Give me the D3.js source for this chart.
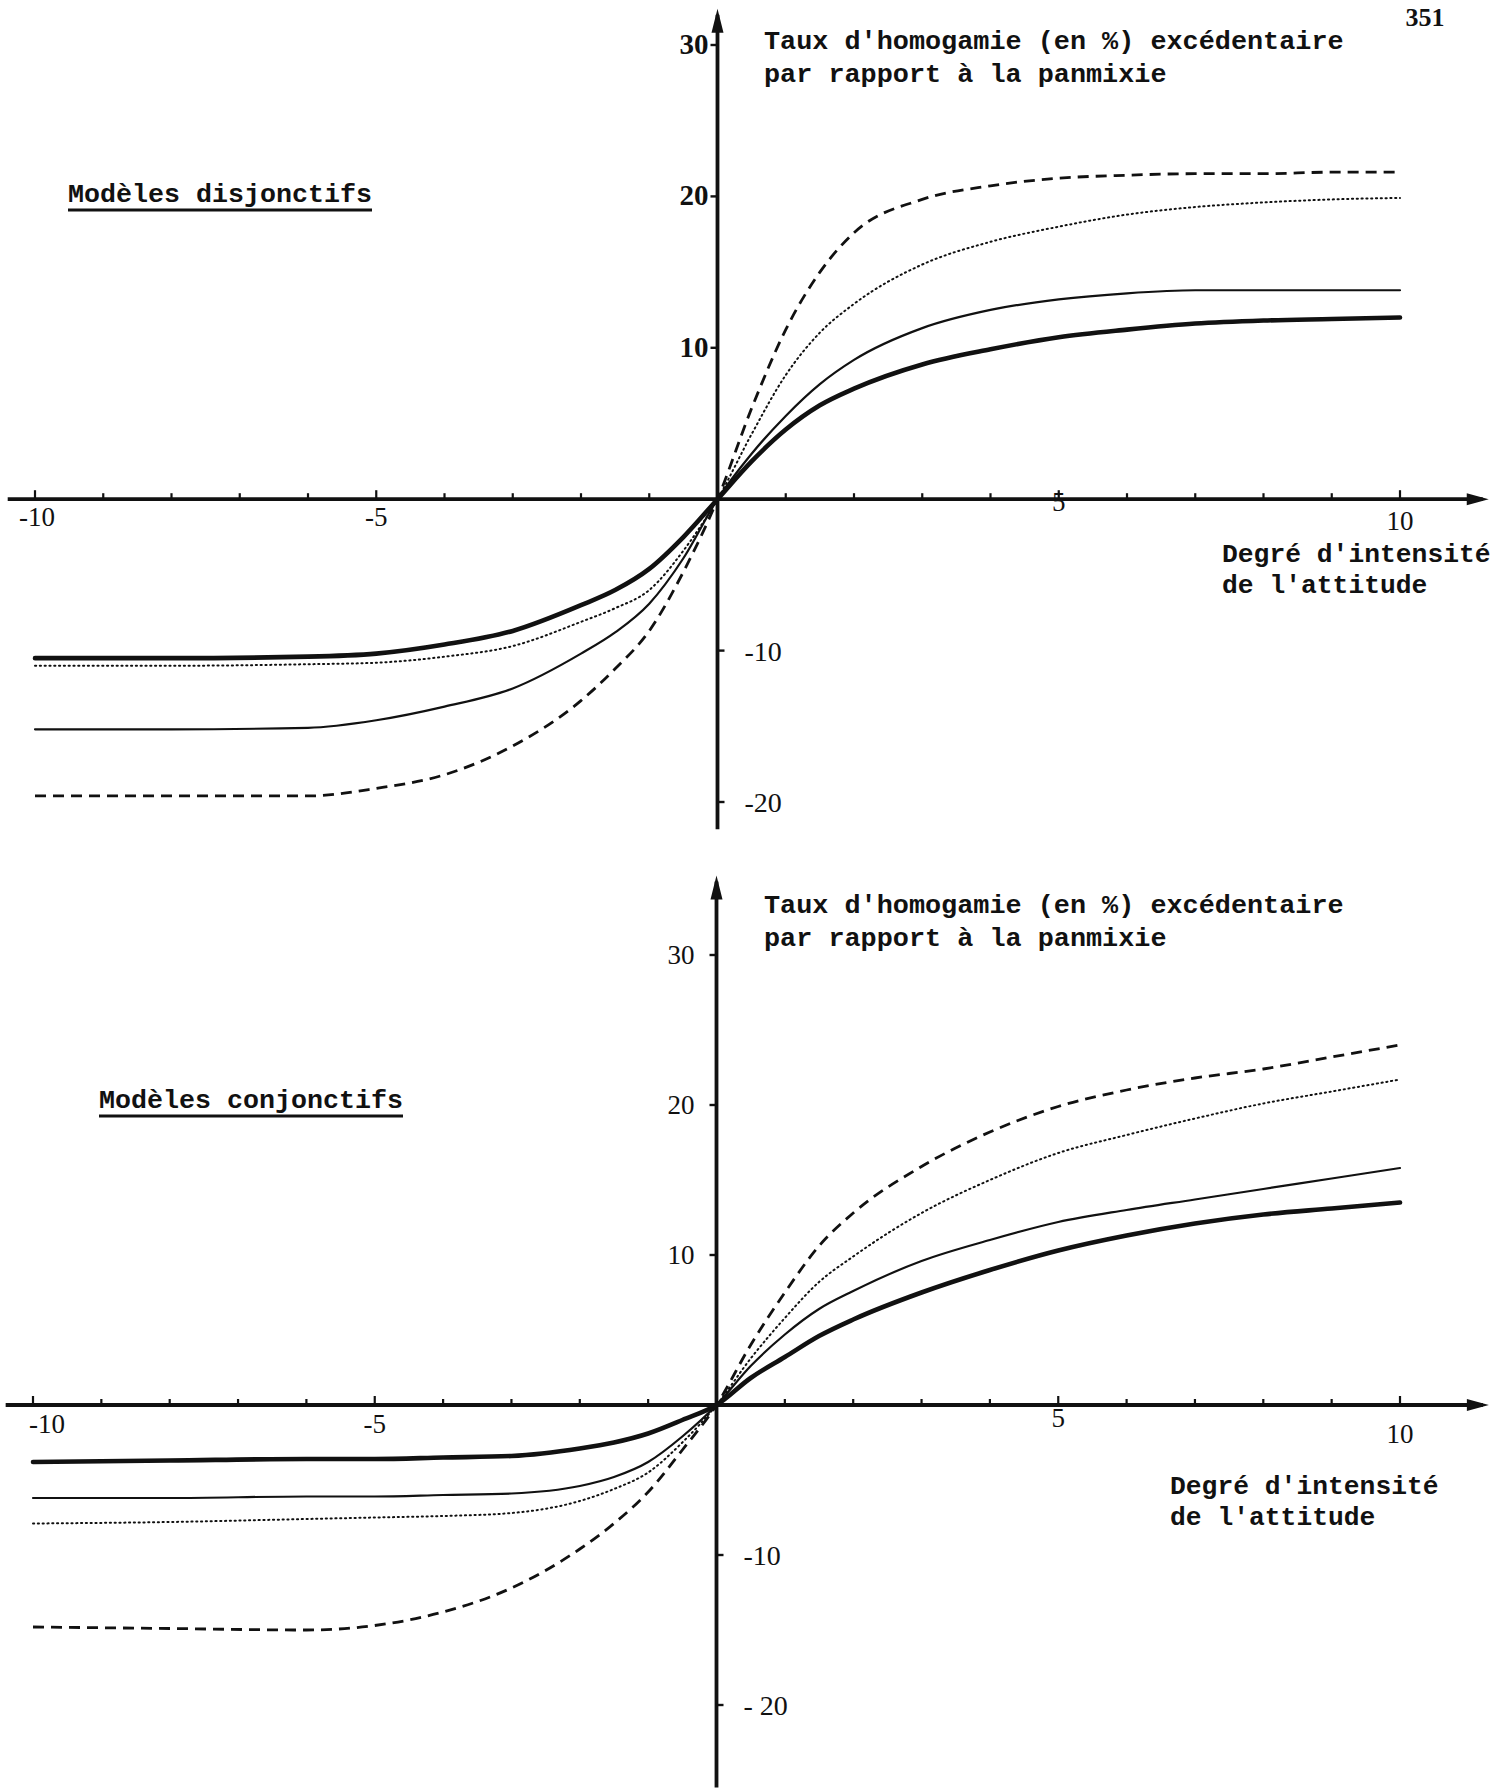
<!DOCTYPE html>
<html>
<head>
<meta charset="utf-8">
<script src="https://cdn.jsdelivr.net/npm/d3@7"></script>
<style>
  html, body { margin: 0; padding: 0; background: #ffffff; }
  svg { display: block; }
  .mono { font-family: "Liberation Mono", "DejaVu Sans Mono", monospace; font-weight: bold; fill: #111; }
  .num { font-family: "Liberation Serif", "DejaVu Serif", serif; fill: #111; }
</style>
</head>
<body>
<svg id="chart" width="1505" height="1791"></svg>
<script>
// ---------------- DATA ----------------
const xValues = [-10, -8, -6, -5, -4, -3, -2, -1.5, -1, -0.5, 0, 0.5, 1, 1.5, 2, 3, 4, 5, 6, 7, 8, 9, 10];

// Modèles disjonctifs (top)
const disjDashed = [-19.6, -19.6, -19.6, -19.1, -18.2, -16.3, -13.3, -11.2, -8.7, -4.8, 0, 6.0, 11.2, 15.0, 17.6, 19.8, 20.7, 21.2, 21.4, 21.5, 21.5, 21.6, 21.6];
const disjDotted = [-11.0, -11.0, -10.9, -10.8, -10.4, -9.7, -8.1, -7.2, -6.0, -3.4, 0, 4.3, 8.2, 11.0, 12.9, 15.5, 17.0, 18.0, 18.8, 19.3, 19.6, 19.8, 19.9];
const disjThin   = [-15.2, -15.2, -15.1, -14.6, -13.7, -12.5, -10.2, -8.8, -6.9, -3.9, 0, 3.0, 5.5, 7.6, 9.2, 11.3, 12.5, 13.2, 13.6, 13.8, 13.8, 13.8, 13.8];
const disjThick  = [-10.5, -10.5, -10.4, -10.2, -9.6, -8.7, -7.0, -6.0, -4.6, -2.5, 0, 2.5, 4.6, 6.2, 7.3, 8.9, 9.9, 10.7, 11.2, 11.6, 11.8, 11.9, 12.0];

// Modèles conjonctifs (bottom)
const conjDashed = [-14.8, -14.9, -15.0, -14.7, -13.8, -12.2, -9.6, -7.9, -5.8, -3.0, 0, 4.0, 7.5, 10.6, 12.8, 15.9, 18.2, 19.9, 21.0, 21.8, 22.4, 23.2, 24.0];
const conjDotted = [-7.9, -7.8, -7.6, -7.5, -7.4, -7.2, -6.4, -5.6, -4.5, -2.5, 0, 3.1, 5.8, 8.2, 9.9, 12.8, 15.0, 16.8, 18.0, 19.1, 20.1, 20.9, 21.7];
const conjThin   = [-6.2, -6.2, -6.1, -6.1, -6.0, -5.9, -5.4, -4.8, -3.8, -2.1, 0, 2.6, 4.7, 6.4, 7.6, 9.6, 11.0, 12.2, 13.0, 13.7, 14.4, 15.1, 15.8];
const conjThick  = [-3.8, -3.7, -3.6, -3.6, -3.5, -3.4, -2.9, -2.5, -1.9, -1.0, 0, 1.8, 3.2, 4.6, 5.7, 7.5, 9.0, 10.3, 11.3, 12.1, 12.7, 13.1, 13.5];

const xTickValues = d3.range(-10, 11, 1).filter(v => v !== 0);
const xTickLabels = [-10, -5, 5, 10];
const yTickValues = [30, 20, 10, -10, -20];
const yTickLabelsTop = ["30", "20", "10", "-10", "-20"];
const yTickLabelsBottom = ["30", "20", "10", "-10", "- 20"];

const pageNumber = "351";
const yTitle = ["Taux d'homogamie (en %) excédentaire", "par rapport à la panmixie"];
const xTitle = ["Degré d'intensité", "de l'attitude"];
const panelTitles = ["Modèles disjonctifs", "Modèles conjonctifs"];

// ---------------- DRAW ----------------
const svg = d3.select("#chart");

svg.append("text").attr("class", "num").attr("x", 1425).attr("y", 26)
  .attr("text-anchor", "middle").attr("font-size", 26).attr("font-weight", "bold").text(pageNumber);

const styles = {
  dashed: { w: 2.8, dash: "11,7", cap: "butt" },
  dotted: { w: 2.0, dash: "1.2,3.6", cap: "round" },
  thin:   { w: 2.2, dash: null, cap: "round" },
  thick:  { w: 4.6, dash: null, cap: "round" }
};

function panel(cfg) {
  const x = d3.scaleLinear().domain([-10, 10]).range(cfg.xRange);
  const y = d3.scaleLinear().domain([-20, 30]).range(cfg.yRange);
  const g = svg.append("g");

  // x axis line + arrow
  const x0 = x(cfg.xAxisFrom), x1 = x(cfg.xAxisTo);
  g.append("line").attr("x1", x0).attr("x2", x1 - 6).attr("y1", y(0)).attr("y2", y(0))
    .attr("stroke", "#111").attr("stroke-width", 3.8);
  g.append("path").attr("d", `M${x1},${y(0)} L${x1 - 22},${y(0) - 6} L${x1 - 22},${y(0) + 6} Z`).attr("fill", "#111");

  // y axis line + arrow
  const yTop = y(cfg.yAxisTo), yBot = y(cfg.yAxisFrom);
  g.append("line").attr("x1", x(0)).attr("x2", x(0)).attr("y1", yTop + 6).attr("y2", yBot)
    .attr("stroke", "#111").attr("stroke-width", 3.8);
  g.append("path").attr("d", `M${x(0)},${yTop} L${x(0) - 6},${yTop + 24} L${x(0) + 6},${yTop + 24} Z`).attr("fill", "#111");

  // x ticks (small marks above the axis)
  g.selectAll(".xt").data(xTickValues).enter().append("line")
    .attr("x1", d => x(d)).attr("x2", d => x(d))
    .attr("y1", d => y(0) - (Math.abs(d) % 5 === 0 ? 9 : 6)).attr("y2", y(0))
    .attr("stroke", "#111").attr("stroke-width", 2.2);

  // y ticks
  g.selectAll(".yt").data(yTickValues).enter().append("line")
    .attr("x1", d => d > 0 ? x(0) - 7 : x(0)).attr("x2", d => d > 0 ? x(0) : x(0) + 7)
    .attr("y1", d => y(d)).attr("y2", d => y(d))
    .attr("stroke", "#111").attr("stroke-width", 2.4);

  // x tick labels
  g.selectAll(".xl").data(xTickLabels).enter().append("text")
    .attr("class", "num").attr("font-size", 27)
    .attr("x", d => x(d) + cfg.xLabelDx(d))
    .attr("y", d => y(0) + cfg.xLabelDy(d))
    .attr("text-anchor", "middle").text(d => String(d));

  // y tick labels
  g.selectAll(".yl").data(yTickValues).enter().append("text")
    .attr("class", "num").attr("font-size", d => d > 0 ? cfg.posFont : 28)
    .attr("font-weight", d => d > 0 ? cfg.posWeight : "normal")
    .attr("x", d => d > 0 ? x(0) + cfg.posLabelDx : x(0) + 27)
    .attr("y", d => y(d) + (d > 0 ? cfg.posLabelDy : 10))
    .attr("text-anchor", d => d > 0 ? "end" : "start")
    .text((d, i) => cfg.yLabels[i]);

  // curves
  const line = d3.line().x(d => x(d[0])).y(d => y(d[1])).curve(d3.curveMonotoneX);
  cfg.series.forEach(s => {
    const st = styles[s.style];
    g.append("path").datum(xValues.map((v, i) => [v, s.values[i]]))
      .attr("d", line).attr("fill", "none").attr("stroke", "#111")
      .attr("stroke-width", st.w).attr("stroke-linecap", st.cap)
      .attr("stroke-dasharray", st.dash);
  });

  // y title (two lines)
  yTitle.forEach((t, i) => {
    g.append("text").attr("class", "mono").attr("font-size", 26)
      .attr("x", 764).attr("y", cfg.yTitleY + i * 33)
      .attr("textLength", t.length * 16.1).attr("lengthAdjust", "spacingAndGlyphs").text(t);
  });

  // x title (two lines)
  xTitle.forEach((t, i) => {
    g.append("text").attr("class", "mono").attr("font-size", 25)
      .attr("x", cfg.xTitleX).attr("y", cfg.xTitleY + i * 31)
      .attr("textLength", t.length * 15.8).attr("lengthAdjust", "spacingAndGlyphs").text(t);
  });

  // panel title with underline
  const pt = panelTitles[cfg.index];
  g.append("text").attr("class", "mono").attr("font-size", 25)
    .attr("x", cfg.ptX).attr("y", cfg.ptY)
    .attr("textLength", pt.length * 16.0).attr("lengthAdjust", "spacingAndGlyphs").text(pt);
  g.append("line").attr("x1", cfg.ptX).attr("x2", cfg.ptX + pt.length * 16.0)
    .attr("y1", cfg.ptY + 8).attr("y2", cfg.ptY + 8)
    .attr("stroke", "#111").attr("stroke-width", 2.8);
}

panel({
  index: 0,
  xRange: [35, 1400], yRange: [802, 45],
  xAxisFrom: -10.4, xAxisTo: 11.3, yAxisFrom: -21.8, yAxisTo: 32.4,
  xLabelDx: d => d === -10 ? 2 : 0,
  xLabelDy: d => d === 10 ? 31 : (d === 5 ? 12 : 27),
  posFont: 29, posWeight: "bold", posLabelDx: -9, posLabelDy: 9,
  yLabels: yTickLabelsTop,
  series: [
    { style: "dashed", values: disjDashed },
    { style: "dotted", values: disjDotted },
    { style: "thin", values: disjThin },
    { style: "thick", values: disjThick }
  ],
  yTitleY: 49, xTitleX: 1222, xTitleY: 562,
  ptX: 68, ptY: 202
});

panel({
  index: 1,
  xRange: [33, 1400], yRange: [1705, 955],
  xAxisFrom: -10.4, xAxisTo: 11.3, yAxisFrom: -25.5, yAxisTo: 35.3,
  xLabelDx: d => d === -10 ? 14 : 0,
  xLabelDy: d => d === 10 ? 38 : (d === 5 ? 22 : 28),
  posFont: 27, posWeight: "normal", posLabelDx: -22, posLabelDy: 9,
  yLabels: yTickLabelsBottom,
  series: [
    { style: "dashed", values: conjDashed },
    { style: "dotted", values: conjDotted },
    { style: "thin", values: conjThin },
    { style: "thick", values: conjThick }
  ],
  yTitleY: 913, xTitleX: 1170, xTitleY: 1494,
  ptX: 99, ptY: 1108
});
</script>
</body>
</html>
